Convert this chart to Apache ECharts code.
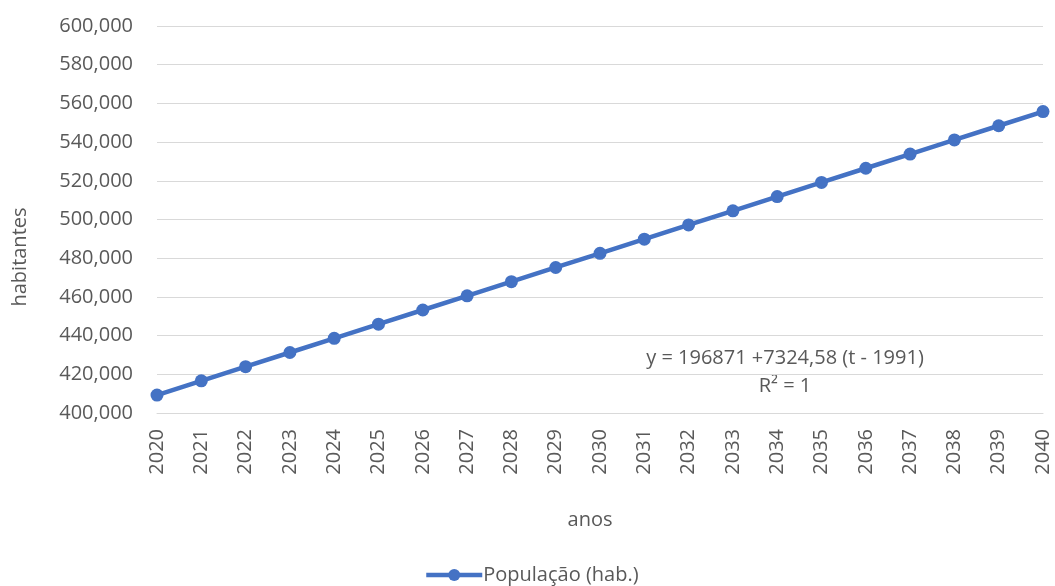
<!DOCTYPE html>
<html>
<head>
<meta charset="utf-8">
<script src="https://cdn.jsdelivr.net/npm/echarts@6/dist/echarts.min.js"></script>
<style>
  html, body { margin: 0; padding: 0; background: #fff; }
  #chart { width: 1055px; height: 586px; }
</style>
</head>
<body>
<div id="chart"></div>
<script>
// Projected population by year
const years = ['2020','2021','2022','2023','2024','2025','2026','2027','2028','2029','2030',
               '2031','2032','2033','2034','2035','2036','2037','2038','2039','2040'];
const population = [409284, 416608, 423933, 431258, 438582, 445907, 453231, 460556, 467880, 475205,
                    482530, 489854, 497179, 504503, 511828, 519153, 526477, 533802, 541126, 548451, 555775];
const seriesName = 'População (hab.)';
const xTitle = 'anos';
const yTitle = 'habitantes';
const trendLabel = 'y = 196871 +7324,58 (t - 1991)';
const r2Label = 'R² = 1';

const FONT = 'Open Sans';
const TXT = '#595959';
const BLUE = '#4472C4';
const FS = 20;

const chart = echarts.init(document.getElementById('chart'));
chart.setOption({
  animation: false,
  textStyle: { fontFamily: FONT },
  grid: { left: 157, right: 12, top: 26, bottom: 173 },
  legend: {
    top: 560,
    left: 419,
    itemWidth: 56,
    itemHeight: 15,
    itemGap: 4,
    lineStyle: { width: 4.5 },
    textStyle: { color: TXT, fontSize: FS, fontFamily: FONT, padding: [0, 0, 0, -4] },
    data: [seriesName]
  },
  xAxis: {
    type: 'category',
    data: years,
    boundaryGap: false,
    axisLine: { lineStyle: { color: '#d9d9d9' } },
    axisTick: { show: false },
    axisLabel: { rotate: 90, color: TXT, fontSize: FS, margin: 16 }
  },
  yAxis: {
    type: 'value',
    min: 400000,
    max: 600000,
    interval: 20000,
    axisLine: { show: false },
    axisTick: { show: false },
    splitLine: { lineStyle: { color: '#d9d9d9', width: 1 } },
    axisLabel: {
      color: TXT, fontSize: FS, margin: 24,
      formatter: v => v.toLocaleString('en-US')
    }
  },
  series: [{
    name: seriesName,
    type: 'line',
    data: population,
    symbol: 'circle',
    symbolSize: 13,
    lineStyle: { color: BLUE, width: 4.5 },
    itemStyle: { color: BLUE }
  }],
  graphic: [
    { type: 'text', x: 785, y: 358, style: { text: trendLabel, fill: TXT, fontSize: FS, fontFamily: FONT, align: 'center', verticalAlign: 'middle' } },
    { type: 'text', x: 785, y: 386, style: { text: r2Label, fill: TXT, fontSize: FS, fontFamily: FONT, align: 'center', verticalAlign: 'middle' } },
    { type: 'text', x: 590, y: 520, style: { text: xTitle, fill: TXT, fontSize: FS, fontFamily: FONT, align: 'center', verticalAlign: 'middle' } },
    { type: 'text', x: 20, y: 257, rotation: Math.PI / 2, style: { text: yTitle, fill: TXT, fontSize: FS, fontFamily: FONT, align: 'center', verticalAlign: 'middle' } }
  ]
});
</script>
</body>
</html>
